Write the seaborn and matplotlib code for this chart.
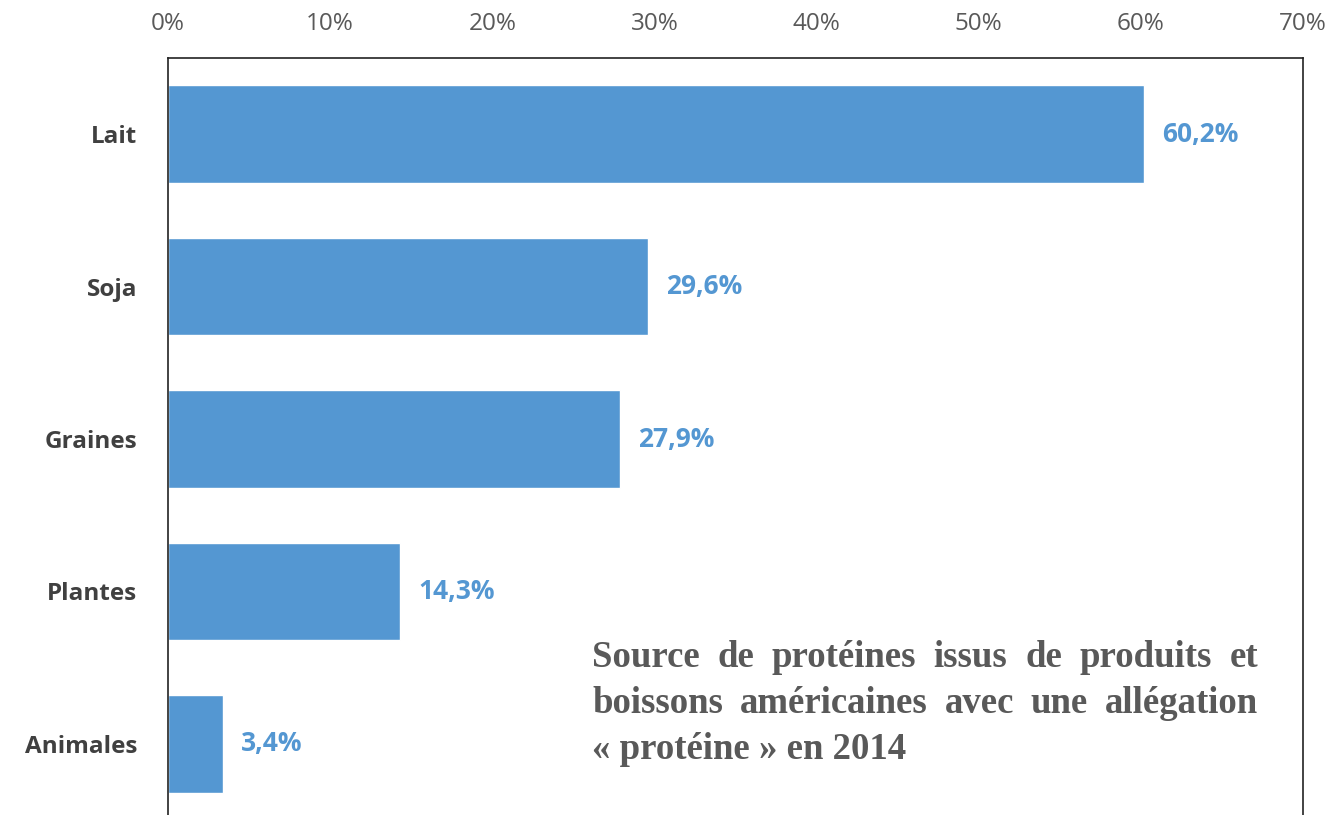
import matplotlib.pyplot as plt
import pandas as pd
import seaborn as sns
from matplotlib.ticker import FuncFormatter

# ------------------------------------------------------------------
# DATA
# ------------------------------------------------------------------
categories = ["Lait", "Soja", "Graines", "Plantes", "Animales"]
shares = [60.2, 29.6, 27.9, 14.3, 3.4]
value_labels = ["60,2%", "29,6%", "27,9%", "14,3%", "3,4%"]
x_ticks = [0, 10, 20, 30, 40, 50, 60, 70]
note_lines = [
    "Source de protéines issus de produits et",
    "boissons américaines avec une allégation",
    "« protéine » en 2014",
]

df = pd.DataFrame({"source": categories, "share": shares})

# ------------------------------------------------------------------
# PLOT
# ------------------------------------------------------------------
sns.set_theme(style="white")
plt.rcParams["font.family"] = ["Open Sans", "DejaVu Sans"]

bar_color = "#5497D2"
label_grey = "#595959"

fig = plt.figure(figsize=(13.4, 8.15), dpi=100)
ax = fig.add_axes([168 / 1340, 1 - 820 / 815, (1303 - 168) / 1340, (820 - 58) / 815])

sns.barplot(
    data=df,
    x="share",
    y="source",
    color=bar_color,
    width=0.64,
    saturation=1,
    ax=ax,
)

ax.set_xlim(0, 70)
ax.set_ylim(len(categories) - 0.5, -0.5)
ax.set_xticks(x_ticks)
ax.xaxis.set_major_formatter(FuncFormatter(lambda v, _: f"{v:.0f}%"))
ax.xaxis.tick_top()
ax.tick_params(axis="x", length=0, pad=16, labelsize=17.5, labelcolor=label_grey)
ax.tick_params(axis="y", length=0, pad=22)
for lbl in ax.get_yticklabels():
    lbl.set_fontweight("bold")
    lbl.set_fontsize(17.5)
    lbl.set_color("#404040")
ax.set_xlabel("")
ax.set_ylabel("")

for side in ["top", "left", "right"]:
    ax.spines[side].set_visible(True)
    ax.spines[side].set_color("#222222")
    ax.spines[side].set_linewidth(1.2)
ax.spines["bottom"].set_visible(False)

# value labels at bar ends
for i, (val, txt) in enumerate(zip(shares, value_labels)):
    ax.annotate(
        txt,
        xy=(val, i),
        xytext=(13, 0),
        textcoords="offset points",
        va="center",
        ha="left",
        fontsize=19,
        fontweight="bold",
        color=bar_color,
    )

# justified note in the lower right
note_font = dict(family="Liberation Serif", fontsize=26.5, fontweight="bold", color=label_grey)
left_px, right_px = 592, 1258
baselines = [667, 713, 759]
fig.canvas.draw()
renderer = fig.canvas.get_renderer()
for n, (line, base) in enumerate(zip(note_lines, baselines)):
    y = 1 - base / 815
    words = line.split(" ")
    if n == len(note_lines) - 1:
        fig.text(left_px / 1340, y, line, ha="left", va="baseline", **note_font)
        continue
    artists = [fig.text(0, y, w, ha="left", va="baseline", **note_font) for w in words]
    widths = [a.get_window_extent(renderer).width for a in artists]
    gap = (right_px - left_px - sum(widths)) / (len(words) - 1)
    x = left_px
    for a, w in zip(artists, widths):
        a.set_x(x / 1340)
        x += w + gap

fig.savefig("out.png", dpi=100)
plt.close(fig)
